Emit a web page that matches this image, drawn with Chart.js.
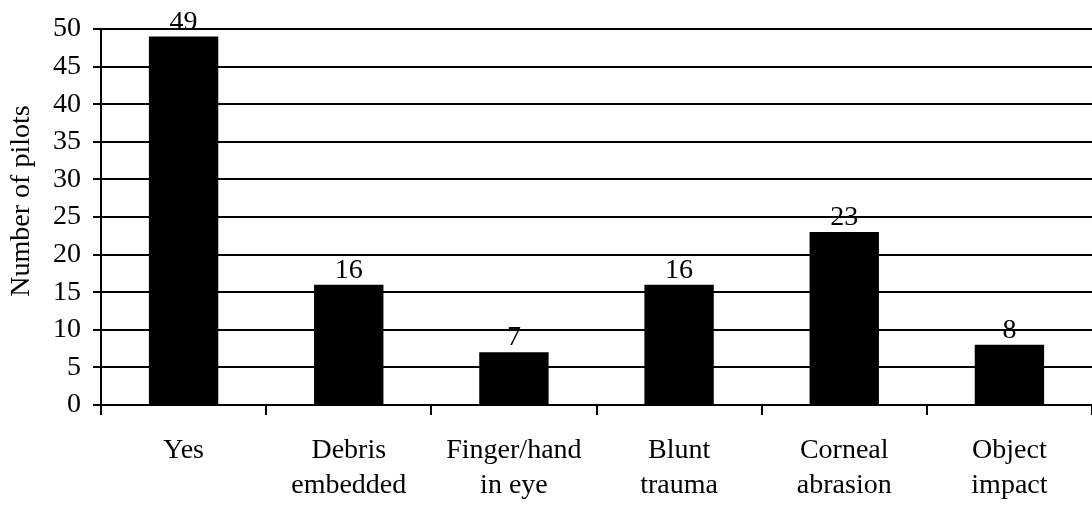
<!DOCTYPE html>
<html>
<head>
<meta charset="utf-8">
<script src="https://cdn.jsdelivr.net/npm/chart.js@4"></script>
<style>
  html, body { margin: 0; padding: 0; background: #fff; overflow: hidden; }
  #wrap { width: 1092px; height: 505px; position: relative; }
</style>
</head>
<body>
<div id="wrap"><canvas id="myChart"></canvas></div>
<script>
const categories = [
  ['Yes'],
  ['Debris', 'embedded'],
  ['Finger/hand', 'in eye'],
  ['Blunt', 'trauma'],
  ['Corneal', 'abrasion'],
  ['Object', 'impact']
];
const pilots = [49, 16, 7, 16, 23, 8];
const yTicks = [0, 5, 10, 15, 20, 25, 30, 35, 40, 45, 50];
const yTitle = 'Number of pilots';

const serif = "'Liberation Serif', 'Times New Roman', serif";

// value above every bar + the rotated y title
const extras = {
  id: 'extras',
  afterDatasetsDraw(chart) {
    const ctx = chart.ctx;
    const meta = chart.getDatasetMeta(0);
    ctx.save();
    ctx.fillStyle = '#000';
    ctx.font = '28px ' + serif;
    ctx.textAlign = 'center';
    ctx.textBaseline = 'alphabetic';
    meta.data.forEach(function (bar, i) {
      ctx.fillText(String(pilots[i]), bar.x, bar.y - 7);
    });

    ctx.translate(22, 201);
    ctx.rotate(-Math.PI / 2);
    ctx.textBaseline = 'middle';
    ctx.fillText(yTitle, 0, 0);
    ctx.restore();
  }
};

new Chart(document.getElementById('myChart'), {
  type: 'bar',
  data: {
    labels: categories,
    datasets: [{
      label: yTitle,
      data: pilots,
      backgroundColor: '#000',
      borderWidth: 0,
      barPercentage: 0.42,
      categoryPercentage: 1.0
    }]
  },
  options: {
    responsive: true,
    maintainAspectRatio: false,
    animation: false,
    layout: { padding: { top: 29, right: 0, left: 0, bottom: 0 } },
    plugins: {
      legend: { display: false },
      tooltip: { enabled: false }
    },
    scales: {
      x: {
        grid: {
          offset: true,
          drawOnChartArea: false,
          color: '#000',
          lineWidth: 2,
          tickLength: 10
        },
        border: { display: true, color: '#000', width: 2 },
        ticks: {
          color: '#000',
          font: { family: serif, size: 28, lineHeight: 1.25 },
          padding: 18,
          maxRotation: 0,
          autoSkip: false
        },
        afterFit(scale) { scale.height = 100; }
      },
      y: {
        min: 0,
        max: 50,
        afterBuildTicks(scale) {
          scale.ticks = yTicks.map(function (v) { return { value: v }; });
        },
        grid: {
          color: '#000',
          lineWidth: 2,
          tickLength: 8
        },
        border: { display: true, color: '#000', width: 2 },
        ticks: {
          color: '#000',
          font: { family: serif, size: 28 },
          padding: 12
        },
        afterFit(scale) { scale.width = 101; }
      }
    }
  },
  plugins: [extras]
});
</script>
</body>
</html>
